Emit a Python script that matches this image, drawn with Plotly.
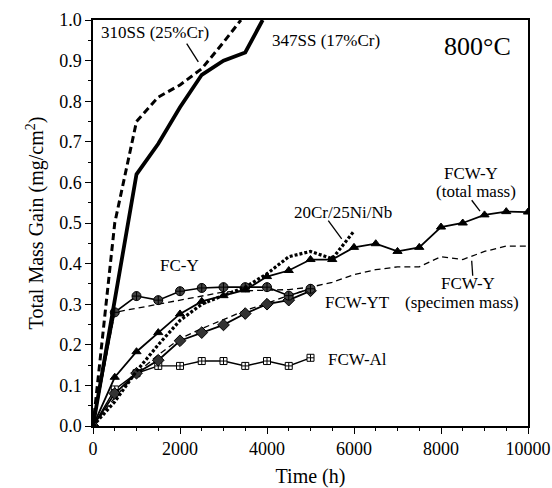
import plotly.graph_objects as go

FONT = "Liberation Serif, Times New Roman, serif"

# ---- data ----
ss310_t = [0, 500, 1000, 1500, 2000, 2500, 3000, 3400]
ss310_v = [0, 0.50, 0.75, 0.81, 0.84, 0.88, 0.945, 1.0]

ss347_t = [0, 1000, 1500, 2000, 2500, 3000, 3500, 3900]
ss347_v = [0, 0.62, 0.695, 0.785, 0.865, 0.90, 0.92, 1.0]

fcy_t = [0, 500, 1000, 1500, 2000, 2500, 3000, 3500, 4000, 4500, 5000]
fcy_v = [0, 0.28, 0.32, 0.31, 0.332, 0.34, 0.342, 0.342, 0.342, 0.321, 0.338]

fcwy_tot_t = [0, 500, 1000, 1500, 2000, 2500, 3000, 3500, 4000, 4500, 5000, 5500,
              6000, 6500, 7000, 7500, 8000, 8500, 9000, 9500, 10000]
fcwy_tot_v = [0, 0.12, 0.183, 0.23, 0.276, 0.307, 0.321, 0.335, 0.368, 0.383, 0.41, 0.41,
              0.44, 0.449, 0.43, 0.44, 0.49, 0.50, 0.52, 0.528, 0.527]

fcwy_spec_t = [0, 500, 1000, 1500, 2000, 2500, 3000, 3500, 4000, 4500, 5000, 5500,
               6000, 6500, 7000, 7500, 8000, 8500, 9000, 9500, 10000]
fcwy_spec_v = [0, 0.28, 0.29, 0.30, 0.31, 0.32, 0.33, 0.333, 0.335, 0.336, 0.342, 0.354,
               0.373, 0.385, 0.392, 0.392, 0.417, 0.41, 0.43, 0.443, 0.443]

fcwyt_t = [0, 500, 1000, 1500, 2000, 2500, 3000, 3500, 4000, 4500, 5000]
fcwyt_v = [0, 0.08, 0.13, 0.162, 0.21, 0.23, 0.249, 0.277, 0.30, 0.31, 0.333]

fcwyt2_t = [0, 500, 1000, 1500, 2000, 2500, 3000, 3500, 4000, 4500, 5000]
fcwyt2_v = [0, 0.07, 0.13, 0.175, 0.215, 0.24, 0.262, 0.285, 0.302, 0.322, 0.338]

fcwal_t = [0, 500, 1000, 1500, 2000, 2500, 3000, 3500, 4000, 4500, 5000]
fcwal_v = [0, 0.09, 0.13, 0.148, 0.148, 0.16, 0.16, 0.148, 0.16, 0.148, 0.168]

cr20_t = [0, 500, 1000, 1500, 2000, 2500, 3000, 3500, 4000, 4500, 5000, 5500, 6000]
cr20_v = [0, 0.06, 0.135, 0.20, 0.26, 0.30, 0.322, 0.342, 0.375, 0.417, 0.43, 0.412, 0.48]

x_ticks = [0, 2000, 4000, 6000, 8000, 10000]
y_ticks = [0.0, 0.1, 0.2, 0.3, 0.4, 0.5, 0.6, 0.7, 0.8, 0.9, 1.0]

fig = go.Figure()

def add(t, v, width=1.5, dash="solid", symbol=None, msize=7, mcolor="black", mline="black"):
    mode = "lines+markers" if symbol else "lines"
    kw = {}
    if symbol:
        kw["marker"] = dict(symbol=symbol, size=msize, color=mcolor,
                            line=dict(color=mline, width=1))
    fig.add_trace(go.Scatter(x=t, y=v, mode=mode,
                             line=dict(color="black", width=width, dash=dash),
                             showlegend=False, **kw))

add(fcwy_spec_t, fcwy_spec_v, width=1.3, dash="6px,4px")
add(fcwyt2_t, fcwyt2_v, width=1.3, dash="6px,4px")
add(fcwal_t, fcwal_v, width=1.4, symbol="square-cross", msize=7, mcolor="white")
add(fcwyt_t, fcwyt_v, width=1.8, symbol="diamond", msize=9, mcolor="#333")
add(fcy_t, fcy_v, width=1.6, symbol="circle-cross", msize=9, mcolor="#444")
add(fcwy_tot_t, fcwy_tot_v, width=1.8, symbol="triangle-up", msize=8)
add(cr20_t, cr20_v, width=3.2, dash="3px,2px")
add(ss310_t, ss310_v, width=3, dash="7px,4px")
add(ss347_t, ss347_v, width=3.8)

def txt(x, y, s, size=17):
    fig.add_annotation(x=x, y=y, text=s, showarrow=False, xref="x", yref="y",
                       font=dict(family=FONT, size=size, color="black"))

txt(1425, 0.968, "310SS (25%Cr)")
txt(5347, 0.950, "347SS (17%Cr)")
txt(8839, 0.934, "800°C", size=26)
txt(8690, 0.622, "FCW-Y")
txt(8805, 0.578, "(total mass)")
txt(5747, 0.526, "20Cr/25Ni/Nb")
txt(1977, 0.395, "FC-Y")
txt(6080, 0.304, "FCW-YT")
txt(8632, 0.352, "FCW-Y")
txt(8494, 0.304, "(specimen mass)")
txt(6080, 0.165, "FCW-Al")

leaders = [
    (2154, 0.942, 2421, 0.897),
    (5409, 0.506, 5717, 0.461),
    (8706, 0.556, 8897, 0.529),
    (8706, 0.407, 8729, 0.370),
]
for x0, y0, x1, y1 in leaders:
    fig.add_shape(type="line", x0=x0, y0=y0, x1=x1, y1=y1, xref="x", yref="y",
                  line=dict(color="black", width=1.3))

fig.update_layout(
    width=552, height=488,
    margin=dict(l=93, r=24, t=20, b=62),
    paper_bgcolor="white", plot_bgcolor="white",
    font=dict(family=FONT, color="black"),
)
fig.update_xaxes(
    range=[0, 10000], tickvals=x_ticks, ticktext=[str(v) for v in x_ticks],
    showline=True, linecolor="black", linewidth=1.5, mirror=True,
    ticks="outside", ticklen=6, tickwidth=1.3, tickcolor="black",
    minor=dict(dtick=500, ticks="outside", ticklen=3, tickcolor="black", tickwidth=1.2),
    showgrid=False, zeroline=False, automargin=False,
    tickfont=dict(family=FONT, size=18),
    title=dict(text="Time (h)", font=dict(family=FONT, size=20), standoff=14),
)
fig.update_yaxes(
    range=[0, 1.0], tickvals=y_ticks, ticktext=[f"{v:.1f}" for v in y_ticks],
    showline=True, linecolor="black", linewidth=1.5, mirror=True,
    ticks="outside", ticklen=6, tickwidth=1.3, tickcolor="black",
    minor=dict(dtick=0.05, ticks="outside", ticklen=3, tickcolor="black", tickwidth=1.2),
    showgrid=False, zeroline=False, automargin=False,
    tickfont=dict(family=FONT, size=18),
    title=dict(text="Total Mass Gain (mg/cm<sup>2</sup>)", font=dict(family=FONT, size=20), standoff=10),
)

fig.write_html("out.html")
